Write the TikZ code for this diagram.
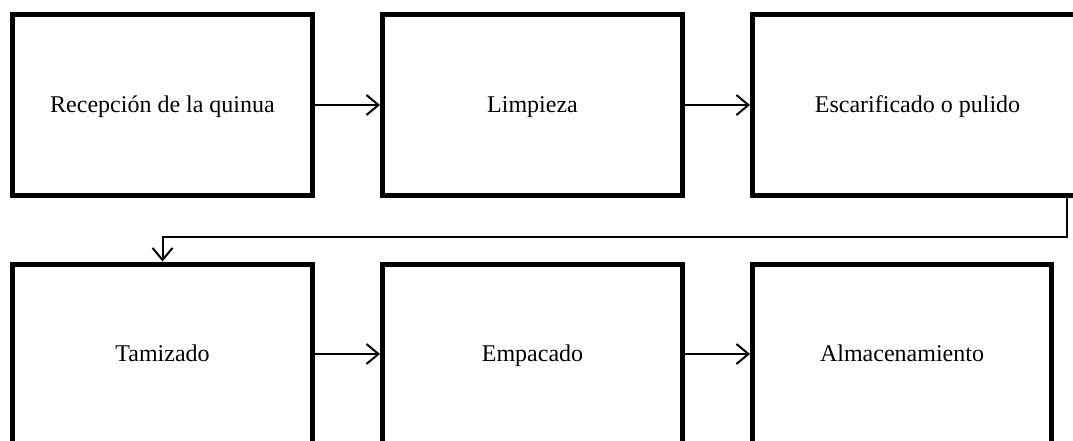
\documentclass[tikz,border=0pt]{standalone}
\usepackage{fontspec}
\setmainfont{Liberation Serif}
\usetikzlibrary{arrows.meta}

\begin{document}
\begin{tikzpicture}[x=1pt, y=-1pt,
  paso/.style={draw, line width=5pt, inner sep=0pt, minimum width=300pt, minimum height=180pt,
    text height=18pt, text depth=3pt, font=\fontsize{24}{28}\selectfont},
  flecha/.style={line width=2pt, -{Straight Barb[length=12pt,width=20pt]}}]
\clip (0, 0) rectangle (1073, 441);
\node [paso] (recepcion) at (162.5, 105) {Recepción de la quinua};
\node [paso] (limpieza) at (532.5, 105) {Limpieza};
\node [paso, minimum width=330pt] (escarificado) at (917.5, 105) {Escarificado o pulido};
\node [paso] (tamizado) at (162.5, 354) {Tamizado};
\node [paso] (empacado) at (532.5, 354) {Empacado};
\node [paso, minimum width=299pt] (almacen) at (902, 354) {Almacenamiento};
\coordinate (giro) at (1067, 237);
\draw [flecha] (recepcion) -- (limpieza);
\draw [flecha] (limpieza) -- (escarificado);
\draw [flecha] (escarificado.south -| giro) -- (giro) -| (tamizado.north);
\draw [flecha] (tamizado) -- (empacado);
\draw [flecha] (empacado) -- (almacen);
\end{tikzpicture}
\end{document}
